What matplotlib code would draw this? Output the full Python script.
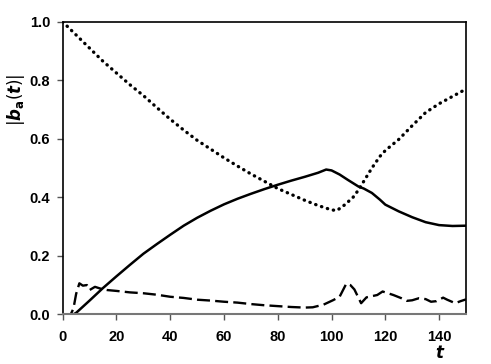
import matplotlib
matplotlib.use("Agg")
import matplotlib.pyplot as plt

plt.rcParams['font.family'] = ['Liberation Sans', 'DejaVu Sans']

# Dotted curve
t_dot = [0, 5, 10, 15, 20, 25, 30, 35, 40, 45, 50, 55, 60, 65, 70, 75, 80, 85, 90, 95, 100, 102,
         105, 108, 110, 113, 115, 118, 120, 125, 130, 135, 140, 145, 150]
b_dot = [1.0, 0.955, 0.91, 0.865, 0.825, 0.785, 0.748, 0.707, 0.667, 0.63, 0.595, 0.565, 0.535,
         0.507, 0.48, 0.455, 0.43, 0.41, 0.39, 0.372, 0.357, 0.355,
         0.375, 0.40, 0.425, 0.47, 0.50, 0.54, 0.56, 0.598, 0.645, 0.69, 0.72, 0.745, 0.77]

# Solid curve
t_sol = [0, 4, 5, 10, 15, 20, 25, 30, 35, 40, 45, 50, 55, 60, 65, 70, 75, 80, 85, 90, 95, 98,
         100, 103, 106, 110, 112, 115, 118, 120, 125, 130, 135, 140, 145, 150]
b_sol = [0.0, 0.0, 0.005, 0.047, 0.09, 0.13, 0.169, 0.207, 0.24, 0.272, 0.303, 0.330, 0.354,
         0.376, 0.395, 0.412, 0.428, 0.443, 0.457, 0.47, 0.484, 0.495,
         0.492, 0.478, 0.46, 0.437, 0.43, 0.415, 0.392, 0.375, 0.352, 0.332, 0.315, 0.305, 0.302, 0.303]

# Dashed curve
t_dash = [0, 3, 4, 5, 6.2, 7.5, 9, 10, 12, 14, 16.5, 20, 25, 30, 35, 40, 45, 50, 55, 60, 65, 70,
          75, 80, 85, 90, 93, 97, 100.5, 103, 105.5, 107, 108.5, 111, 113, 115, 117, 119, 121, 123,
          126, 128, 130, 132.5, 135, 137, 139, 141.5, 143, 146, 148, 150]
b_dash = [0.0, 0.0, 0.02, 0.07, 0.106, 0.098, 0.1, 0.083, 0.094, 0.088, 0.083, 0.08, 0.075,
          0.072, 0.067, 0.06, 0.056, 0.05, 0.047, 0.043, 0.04, 0.035, 0.031, 0.028, 0.025, 0.023,
          0.024, 0.033, 0.048, 0.06, 0.105, 0.1, 0.085, 0.038, 0.058, 0.062, 0.066, 0.078, 0.072,
          0.066, 0.055, 0.046, 0.048, 0.055, 0.052, 0.043, 0.045, 0.057, 0.05, 0.038, 0.045, 0.051]

x_ticks = [0, 20, 40, 60, 80, 100, 120, 140]
y_ticks = [0.0, 0.2, 0.4, 0.6, 0.8, 1.0]
y_tick_labels = ['0.0', '0.2', '0.4', '0.6', '0.8', '1.0']

fig = plt.figure(figsize=(4.91, 3.64), dpi=100)
ax = fig.add_axes([0.1277, 0.1365, 0.8213, 0.8035])

ax.plot(t_dot, b_dot, color='black', linestyle=(0, (0.1, 1.75)), linewidth=2.4,
        dash_capstyle='round')
ax.plot(t_sol, b_sol, color='black', linestyle='-', linewidth=1.8)
ax.plot(t_dash, b_dash, color='black', linestyle=(0, (5.5, 2.2)), linewidth=1.7)

ax.set_xlim(0, 150)
ax.set_ylim(0, 1.0)
ax.set_xticks(x_ticks)
ax.set_yticks(y_ticks)
ax.set_yticklabels(y_tick_labels)
for lbl in ax.get_xticklabels() + ax.get_yticklabels():
    lbl.set_fontweight('bold')
    lbl.set_fontsize(10.5)
ax.tick_params(axis='both', direction='out', length=4, width=1, color='#555555')
ax.tick_params(axis='x', pad=7)
ax.tick_params(axis='y', pad=5)

for s in ['top', 'right', 'left']:
    ax.spines[s].set_color('black')
    ax.spines[s].set_linewidth(1.2)
ax.spines['bottom'].set_color('#777777')
ax.spines['bottom'].set_linewidth(1.5)

fig.text(0.032, 0.725, r'$|\boldsymbol{b}_{\mathbf{a}}(\boldsymbol{t})|$', rotation=90,
         ha='center', va='center', fontsize=12)
fig.text(0.897, 0.032, r'$\boldsymbol{t}$', ha='center', va='center', fontsize=12)

fig.savefig('out.png', dpi=100)
